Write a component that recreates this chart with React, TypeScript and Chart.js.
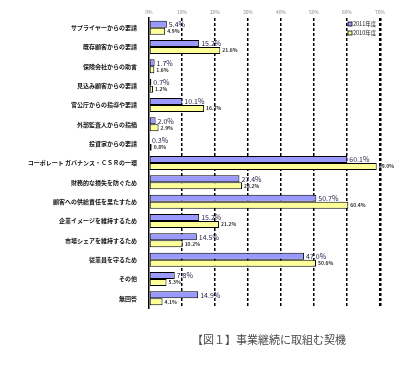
import React, { useEffect, useRef } from "react";
import { Chart, registerables } from "chart.js";

Chart.register(...registerables);

const categories = [
  "サプライヤーからの要請",
  "既存顧客からの要請",
  "保険会社からの助言",
  "見込み顧客からの要請",
  "官公庁からの指導や要請",
  "外部監査人からの指摘",
  "投資家からの要請",
  "コーポレート ガバナンス・ＣＳＲの一環",
  "財務的な損失を防ぐため",
  "顧客への供給責任を果たすため",
  "企業イメージを維持するため",
  "市場シェアを維持するため",
  "従業員を守るため",
  "その他",
  "無回答",
];
const values2011 = [5.4, 15.2, 1.7, 0.7, 10.1, 2.0, 0.3, 60.1, 27.4, 50.7, 15.2, 14.5, 47.0, 7.8, 14.9];
const values2010 = [4.9, 21.6, 1.6, 1.2, 16.7, 2.9, 0.8, 69.0, 28.2, 60.4, 21.2, 10.2, 50.6, 5.3, 4.1];
const seriesLabels = ["2011年度", "2010年度"];
const xTicks = [0, 10, 20, 30, 40, 50, 60, 70];
const titleText = "【図１】事業継続に取組む契機";

const JP = '"Noto Sans CJK JP", "Noto Sans", sans-serif';

const overlayPlugin = {
  id: "overlay",
  afterDatasetsDraw(chart: any) {
    const { ctx, chartArea } = chart;
    ctx.save();
    chart.data.datasets.forEach((ds: any, di: number) => {
      const meta = chart.getDatasetMeta(di);
      meta.data.forEach((bar: any, i: number) => {
        const v = ds.data[i];
        ctx.textAlign = "left";
        ctx.textBaseline = "middle";
        if (di === 0) {
          ctx.font = `7px ${JP}`;
          ctx.fillStyle = "#1f1f45";
        } else {
          ctx.font = `bold 5px ${JP}`;
          ctx.fillStyle = "#333";
        }
        ctx.fillText(v.toFixed(1) + "%", bar.x + 2, bar.y);
      });
    });
    const lx = chartArea.right - 32;
    const ly = chartArea.top + 6;
    chart.data.datasets.forEach((ds: any, di: number) => {
      const y = ly + di * 9;
      ctx.fillStyle = ds.backgroundColor;
      ctx.fillRect(lx, y - 2, 4, 4);
      ctx.strokeStyle = "#000";
      ctx.lineWidth = 0.8;
      ctx.strokeRect(lx, y - 2, 4, 4);
      ctx.fillStyle = "#222";
      ctx.font = `5.5px ${JP}`;
      ctx.textAlign = "left";
      ctx.textBaseline = "middle";
      ctx.fillText(ds.label, lx + 5, y);
    });
    ctx.font = `11px ${JP}`;
    ctx.fillStyle = "#4a4a4a";
    ctx.textAlign = "center";
    ctx.textBaseline = "middle";
    ctx.fillText(titleText, 269, 340);
    ctx.restore();
  },
};

export default function App() {
  const ref = useRef<HTMLCanvasElement>(null);
  useEffect(() => {
    if (!ref.current) return;
    const chart = new Chart(ref.current, {
      type: "bar",
      data: {
        labels: categories,
        datasets: [
          {
            label: seriesLabels[0],
            data: values2011,
            backgroundColor: "#9999FF",
            borderColor: "#000",
            borderWidth: 1,
            borderSkipped: false,
            categoryPercentage: 0.72,
            barPercentage: 1,
          },
          {
            label: seriesLabels[1],
            data: values2010,
            backgroundColor: "#FFFF99",
            borderColor: "#000",
            borderWidth: 1,
            borderSkipped: false,
            categoryPercentage: 0.72,
            barPercentage: 1,
          },
        ],
      },
      plugins: [overlayPlugin],
      options: {
        indexAxis: "y",
        animation: false,
        responsive: false,
        maintainAspectRatio: false,
        layout: { padding: { left: 0, right: 27, top: 0, bottom: 57 } },
        plugins: {
          legend: { display: false },
          tooltip: { enabled: false },
          title: { display: false },
        },
        scales: {
          x: {
            position: "top",
            min: 0,
            max: 70,
            afterBuildTicks: (scale: any) => {
              scale.ticks = xTicks.map((v) => ({ value: v }));
            },
            afterFit: (scale: any) => {
              scale.height = 18;
            },
            ticks: {
              callback: (v: any) => v + "%",
              font: { size: 5, family: JP },
              color: "#888",
              padding: 3,
            },
            grid: {
              drawTicks: false,
              color: (c: any) => (c.index === 0 ? "rgba(0,0,0,0)" : "#000"),
              lineWidth: (c: any) => (c.index === 7 ? 2.5 : 1.5),
            },
            border: { display: false, dash: [3, 2] },
          },
          y: {
            afterFit: (scale: any) => {
              scale.width = 149;
            },
            ticks: {
              font: { size: 6, family: JP, weight: "bold" },
              color: "#111",
              padding: 4,
            },
            grid: { display: false },
            border: { display: true, color: "#000", width: 1.5 },
          },
        },
      } as any,
    });
    return () => chart.destroy();
  }, []);
  return (
    <div style={{ position: "fixed", left: 0, top: 0, width: 407, height: 365, background: "#fff" }}>
      <canvas ref={ref} width={407} height={365} style={{ width: 407, height: 365 }} />
    </div>
  );
}
